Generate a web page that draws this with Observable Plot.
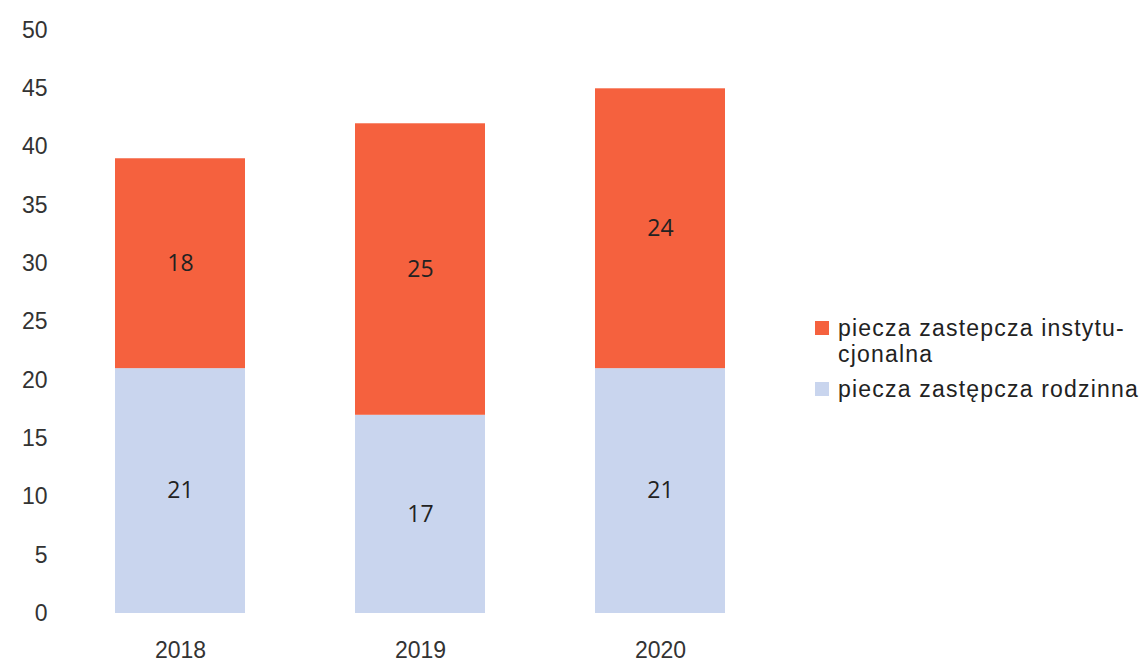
<!DOCTYPE html>
<html>
<head>
<meta charset="utf-8">
<script src="https://cdn.jsdelivr.net/npm/d3@7"></script>
<script src="https://cdn.jsdelivr.net/npm/@observablehq/plot@0.6"></script>
<style>
  html, body { margin: 0; padding: 0; background: #ffffff; }
  #wrap { position: relative; width: 1148px; height: 669px; font-family: "Liberation Sans", Arial, sans-serif; }
  #legend { position: absolute; left: 815px; top: 315px; font-size: 23px; letter-spacing: 1.2px; color: #222; line-height: 26px; }
  .item { display: flex; align-items: flex-start; margin-bottom: 9px; }
  .sw { width: 14px; height: 14px; margin-right: 9px; margin-top: 6px; flex: none; }
</style>
</head>
<body>
<div id="wrap">
  <div id="chart"></div>
  <div id="legend"></div>
</div>
<script>
const years = ["2018", "2019", "2020"];
const rodzinna = [21, 17, 21];
const instytucjonalna = [18, 25, 24];
const seriesNames = ["piecza zastępcza rodzinna", "piecza zastepcza instytucjonalna"];
const legendLabels = ["piecza zastepcza instytu-<br>cjonalna", "piecza zastępcza rodzinna"];
const colors = ["#c9d5ee", "#f5613e"];
const yTicks = [0, 5, 10, 15, 20, 25, 30, 35, 40, 45, 50];

const data = [];
years.forEach((y, i) => data.push({year: y, series: seriesNames[0], value: rodzinna[i]}));
years.forEach((y, i) => data.push({year: y, series: seriesNames[1], value: instytucjonalna[i]}));

const chart = Plot.plot({
  width: 800,
  height: 669,
  marginTop: 30,
  marginBottom: 56,
  marginLeft: 60,
  marginRight: 20,
  style: {fontFamily: "Liberation Sans, Arial, sans-serif", fontSize: "23px", color: "#333", background: "transparent"},
  x: {domain: years, paddingInner: 0.46, paddingOuter: 0.23, label: null},
  y: {domain: [0, 50], label: null},
  color: {domain: seriesNames, range: colors},
  marks: [
    Plot.barY(data, {x: "year", y: "value", z: "series", fill: "series"}),
    Plot.text(data, Plot.stackY({x: "year", y: "value", z: "series", text: d => String(d.value), fill: "#222", fontSize: 23, fontFamily: "Open Sans, sans-serif"})),
    Plot.axisY({ticks: yTicks, tickSize: 0, tickPadding: 13, fontSize: 23, fill: "#333", label: null}),
    Plot.axisX({tickSize: 0, tickPadding: 28, fontSize: 23, fill: "#333", label: null})
  ]
});
document.getElementById("chart").appendChild(chart);

const legend = document.getElementById("legend");
[1, 0].forEach(i => {
  const item = document.createElement("div");
  item.className = "item";
  const sw = document.createElement("div");
  sw.className = "sw";
  sw.style.background = colors[i];
  const lab = document.createElement("div");
  lab.innerHTML = legendLabels[1 - i];
  item.appendChild(sw);
  item.appendChild(lab);
  legend.appendChild(item);
});
</script>
</body>
</html>
